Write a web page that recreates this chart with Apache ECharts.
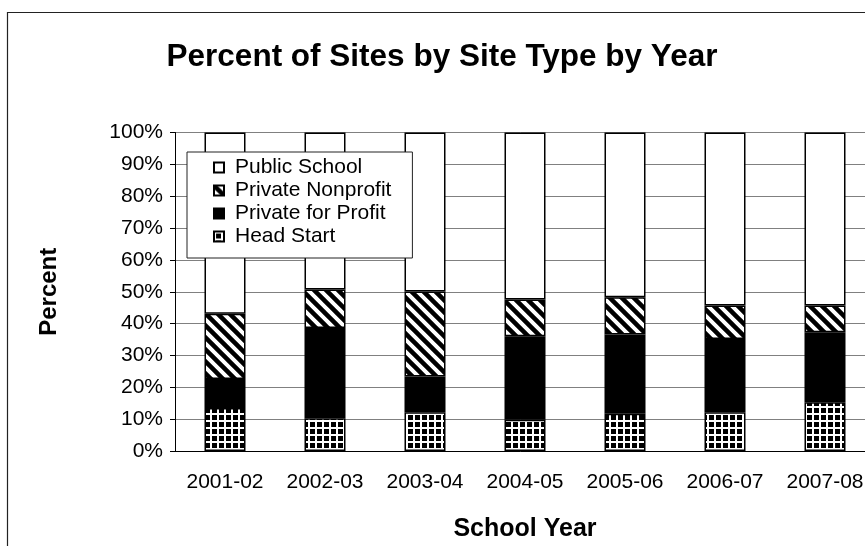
<!DOCTYPE html>
<html>
<head>
<meta charset="utf-8">
<script src="https://cdn.jsdelivr.net/npm/echarts@6/dist/echarts.min.js"></script>
<style>
html,body{margin:0;padding:0;background:#fff;}
#chart{width:865px;height:546px;}
</style>
</head>
<body>
<div id="chart"></div>
<script>
const categories = ['2001-02','2002-03','2003-04','2004-05','2005-06','2006-07','2007-08'];
const headStart = [13.5, 10.3, 12.2, 9.8, 11.7, 12.2, 15.3];
const privateForProfit = [9.1, 28.3, 11.2, 26.2, 24.9, 23.0, 22.0];
const privateNonprofit = [20.5, 12.1, 26.7, 11.6, 11.7, 10.5, 8.4];
const publicSchool = [56.9, 49.3, 49.9, 52.4, 51.7, 54.3, 54.3];
const yTicks = [0,10,20,30,40,50,60,70,80,90,100];
const legendOrder = ['Public School','Private Nonprofit','Private for Profit','Head Start'];

function gridPattern(){
  const c = document.createElement('canvas');
  c.width = 7; c.height = 7;
  const g = c.getContext('2d');
  g.fillStyle = '#000'; g.fillRect(0,0,7,7);
  g.fillStyle = '#fff';
  g.fillRect(0,0,7,2);
  g.fillRect(0,0,2,7);
  return c;
}
function diagPattern(){
  const s = 12;
  const c = document.createElement('canvas');
  c.width = s; c.height = s;
  const g = c.getContext('2d');
  g.fillStyle = '#fff'; g.fillRect(0,0,s,s);
  g.strokeStyle = '#000'; g.lineWidth = 4.5;
  g.beginPath();
  g.moveTo(-s,-s); g.lineTo(2*s,2*s);
  g.moveTo(-s,0); g.lineTo(s,2*s);
  g.moveTo(0,-s); g.lineTo(2*s,s);
  g.stroke();
  return c;
}
const FONT = 'Liberation Sans, Arial, sans-serif';
const border = {borderColor:'#000', borderWidth:1.5};

const chart = echarts.init(document.getElementById('chart'), null, {renderer:'canvas'});
chart.setOption({
  animation:false,
  backgroundColor:'#fff',
  textStyle:{fontFamily:FONT},
  graphic:[
    {type:'rect', shape:{x:7.5,y:12.5,width:1000,height:1000}, style:{fill:'none',stroke:'#222',lineWidth:1.2}, silent:true},
    {type:'text', x:442, y:57, style:{text:'Percent of Sites by Site Type by Year', font:'bold 31.5px '+FONT, fill:'#000', textAlign:'center', textVerticalAlign:'middle'}}
  ],
  grid:{left:175, top:132.5, width:700, bottom:95, containLabel:false, outerBoundsMode:'none'},
  legend:{
    data:legendOrder,
    orient:'vertical',
    left:187, top:152,
    backgroundColor:'#fff',
    borderColor:'#222', borderWidth:1,
    padding:[5,21,11,26],
    itemWidth:10, itemHeight:10,
    itemGap:2,
    icon:'rect',
    textStyle:{fontSize:21, color:'#000', fontFamily:FONT, lineHeight:21, padding:[0,0,0,6]}
  },
  xAxis:{
    type:'category',
    data:categories,
    boundaryGap:true,
    name:'School Year',
    nameLocation:'middle',
    nameGap:66,
    nameTextStyle:{fontSize:25, fontWeight:'bold', color:'#000', fontFamily:FONT},
    axisLine:{lineStyle:{color:'#000', width:1}},
    axisTick:{length:5, lineStyle:{color:'#000'}},
    axisLabel:{fontSize:21, color:'#000', margin:21, fontFamily:FONT, interval:0, hideOverlap:false}
  },
  yAxis:{
    type:'value',
    min:yTicks[0], max:yTicks[yTicks.length-1], interval:10,
    name:'Percent',
    nameLocation:'middle',
    nameGap:114,
    nameRotate:90,
    nameTextStyle:{fontSize:24, fontWeight:'bold', color:'#000', fontFamily:FONT},
    axisLine:{show:true, lineStyle:{color:'#000', width:1}},
    axisTick:{show:true, length:5, lineStyle:{color:'#000'}},
    axisLabel:{fontSize:21, color:'#000', margin:12, formatter:'{value}%', fontFamily:FONT},
    splitLine:{show:true, lineStyle:{color:'#808080', width:1}}
  },
  series:[
    {name:'Head Start', type:'bar', stack:'s', barWidth:'41%', data:headStart,
     itemStyle:Object.assign({color:{image:gridPattern(), repeat:'repeat'}}, border)},
    {name:'Private for Profit', type:'bar', stack:'s', barWidth:'41%', data:privateForProfit,
     itemStyle:Object.assign({color:'#000'}, border)},
    {name:'Private Nonprofit', type:'bar', stack:'s', barWidth:'41%', data:privateNonprofit,
     itemStyle:Object.assign({color:{image:diagPattern(), repeat:'repeat'}}, border)},
    {name:'Public School', type:'bar', stack:'s', barWidth:'41%', data:publicSchool,
     itemStyle:Object.assign({color:'#fff'}, border)}
  ]
});
</script>
</body>
</html>
